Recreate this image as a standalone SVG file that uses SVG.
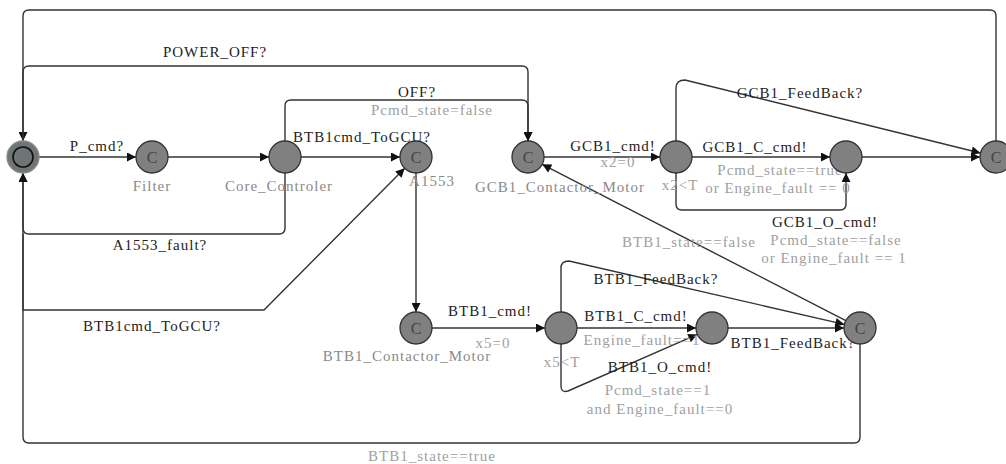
<svg xmlns="http://www.w3.org/2000/svg" width="1006" height="464" viewBox="0 0 1006 464">
<defs>
<marker id="arr" viewBox="0 0 10 10" refX="10" refY="5" markerWidth="11" markerHeight="9" markerUnits="userSpaceOnUse" orient="auto">
<path d="M0,0 L10,5 L0,10 Z" fill="#111"/>
</marker>
<style>
.e{fill:none;stroke:#333;stroke-width:1.4}
.a{marker-end:url(#arr)}
.n{fill:#808080;stroke:#333;stroke-width:1.3}
text{font-family:'Liberation Serif','Times New Roman','DejaVu Serif',serif}
.c{font-size:16px;fill:#444;text-anchor:middle}
.l{font-size:15px;fill:#222;letter-spacing:1px;text-anchor:middle}
.g{font-size:15px;fill:#a0a0a0;letter-spacing:1px;text-anchor:middle}
.nm{font-size:15px;fill:#8a8a8a;letter-spacing:1px;text-anchor:middle}
</style>
</defs>
<rect width="1006" height="464" fill="#fff"/>
<g id="connectors">
<path class="e a" d="M39,157 H136"/>
<path class="e a" d="M168,157 H269"/>
<path class="e a" d="M301,157 H400"/>
<path class="e a" d="M544,157 H660"/>
<path class="e a" d="M692,157 H830"/>
<path class="e a" d="M862,157 H980"/>
<path class="e a" d="M432,328 H545"/>
<path class="e a" d="M577,328 H696"/>
<path class="e a" d="M728,328 H844"/>
<path class="e a" d="M416,173 V312"/>
<path class="e a" d="M996,141 V16 Q996,10 990,10 H29 Q23,10 23,16 V141"/>
<path class="e a" d="M23,141 V72 Q23,66 29,66 H522 Q528,66 528,72 V141"/>
<path class="e a" d="M285,141 V106 Q285,100 291,100 H522 Q528,100 528,106 V141"/>
<path class="e a" d="M285,173 V228 Q285,234 279,234 H29 Q23,234 23,228 V173"/>
<path class="e a" d="M23,234 V310 H264 L404.7,168.3"/>
<path class="e a" d="M860,344 V437 Q860,443 854,443 H29 Q23,443 23,437 V173"/>
<path class="e a" d="M676,141 V88 Q676,80 685,80 L980.5,153"/>
<path class="e a" d="M676,173 V204 Q676,210 682,210 H840 Q846,210 846,204 V173"/>
<path class="e a" d="M561,312 V268 Q561,261 569,261 L844.4,324.4"/>
<path class="e a" d="M561,344 V386 Q561,393 568,391 L697.3,334.4"/>
<path class="e a" d="M845.8,320.7 L542.2,164.3"/>
</g>
<g id="labels">
<text class="l" x="215" y="57">POWER_OFF?</text>
<text class="l" x="97" y="151">P_cmd?</text>
<text class="l" x="362" y="142">BTB1cmd_ToGCU?</text>
<text class="l" x="417" y="97">OFF?</text>
<text class="g" x="432" y="115">Pcmd_state=false</text>
<text class="l" x="613" y="151">GCB1_cmd!</text>
<text class="g" x="618" y="167">x2=0</text>
<text class="l" x="755" y="152">GCB1_C_cmd!</text>
<text class="g" x="780" y="175">Pcmd_state==true</text>
<text class="g" x="778" y="193">or Engine_fault == 0</text>
<text class="g" x="680" y="190">x2&lt;T</text>
<text class="l" x="825" y="227">GCB1_O_cmd!</text>
<text class="g" x="836" y="245">Pcmd_state==false</text>
<text class="g" x="834" y="263">or Engine_fault == 1</text>
<text class="l" x="800" y="98">GCB1_FeedBack?</text>
<text class="g" x="689" y="247">BTB1_state==false</text>
<text class="l" x="160" y="250">A1553_fault?</text>
<text class="l" x="152" y="331">BTB1cmd_ToGCU?</text>
<text class="l" x="490" y="316">BTB1_cmd!</text>
<text class="g" x="493" y="348">x5=0</text>
<text class="l" x="636" y="321">BTB1_C_cmd!</text>
<text class="g" x="642" y="345">Engine_fault==1</text>
<text class="g" x="562" y="367">x5&lt;T</text>
<text class="l" x="660" y="372">BTB1_O_cmd!</text>
<text class="g" x="658" y="395">Pcmd_state==1</text>
<text class="g" x="660" y="414">and Engine_fault==0</text>
<text class="l" x="656" y="284">BTB1_FeedBack?</text>
<text class="l" x="793" y="348">BTB1_FeedBack?</text>
<text class="g" x="432" y="461">BTB1_state==true</text>
</g>
<g id="init">
<circle cx="23" cy="157" r="16" fill="#6f7575" stroke="#8a8a8a" stroke-width="1.3"/>
<circle cx="23" cy="157" r="10" fill="#6f7575" stroke="#111" stroke-width="1.6"/>
</g>
<g id="filter">
<circle class="n" cx="152" cy="157" r="16"/>
<text class="c" x="152" y="163">C</text>
<text class="nm" x="152" y="191">Filter</text>
</g>
<g id="core">
<circle class="n" cx="285" cy="157" r="16"/>
<text class="nm" x="279" y="191">Core_Controler</text>
</g>
<g id="a1553">
<circle class="n" cx="416" cy="157" r="16"/>
<text class="c" x="416" y="163">C</text>
<text class="nm" x="432" y="186">A1553</text>
</g>
<g id="gcb1_motor">
<circle class="n" cx="528" cy="157" r="16"/>
<text class="c" x="528" y="163">C</text>
<text class="nm" x="560" y="192">GCB1_Contactor_Motor</text>
</g>
<g id="gcb1_wait">
<circle class="n" cx="676" cy="157" r="16"/>
</g>
<g id="gcb1_done">
<circle class="n" cx="846" cy="157" r="16"/>
</g>
<g id="gcb1_fb">
<circle class="n" cx="996" cy="157" r="16"/>
<text class="c" x="996" y="163">C</text>
</g>
<g id="btb1_motor">
<circle class="n" cx="416" cy="328" r="16"/>
<text class="c" x="416" y="334">C</text>
<text class="nm" x="407" y="361">BTB1_Contactor_Motor</text>
</g>
<g id="btb1_wait">
<circle class="n" cx="561" cy="328" r="16"/>
</g>
<g id="btb1_done">
<circle class="n" cx="712" cy="328" r="16"/>
</g>
<g id="btb1_fb">
<circle class="n" cx="860" cy="328" r="16"/>
<text class="c" x="860" y="334">C</text>
</g>
</svg>
